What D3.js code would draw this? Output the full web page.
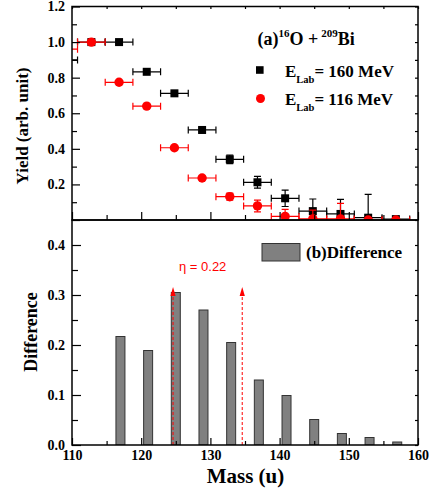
<!DOCTYPE html>
<html>
<head>
<meta charset="utf-8">
<script src="https://cdn.jsdelivr.net/npm/d3@7"></script>
<style>
  body { margin: 0; background: #fff; }
  text { font-family: "Liberation Serif", "Times New Roman", serif; }
</style>
</head>
<body>
<svg id="chart" width="429" height="492"></svg>
<script>
// panel (a): fragment yields
const mass = [108.8, 112.8, 116.8, 120.8, 124.8, 128.8, 132.8, 136.8, 140.8, 144.8, 148.8, 152.8, 156.8];
const massErr = 2;
const yield160 = [0.90, 1.00, 1.00, 0.833, 0.712, 0.506, 0.341, 0.212, 0.122, 0.050, 0.034, 0.013, 0.005];
const err160 = [0, 0, 0.008, 0.008, 0.008, 0.01, 0.024, 0.033, 0.046, 0.068, 0.082, 0.131, 0];
const yield116 = [0.96, 1.00, 0.774, 0.640, 0.406, 0.236, 0.131, 0.079, 0.020, 0.006, 0.006, 0.0, 0.0];
const err116 = [0, 0, 0.008, 0.008, 0.01, 0.012, 0.02, 0.033, 0.04, 0.05, 0.088, 0, 0];

// panel (b): difference
const barMass = [117, 121, 125, 129, 133, 137, 141, 145, 149, 153, 157];
const diff = [0.217, 0.189, 0.305, 0.270, 0.205, 0.130, 0.099, 0.051, 0.023, 0.015, 0.006];
const arrowMass = [124.6, 134.6];
const arrowTop = 0.316;

const xMajor = [110, 120, 130, 140, 150, 160];
const xMinor = [115, 125, 135, 145, 155];
const yTopMajor = [0, 0.2, 0.4, 0.6, 0.8, 1.0, 1.2];
const yTopMinor = [0.1, 0.3, 0.5, 0.7, 0.9, 1.1];
const yBotMajor = [0, 0.1, 0.2, 0.3, 0.4];
const yBotMinor = [0.05, 0.15, 0.25, 0.35];

const svg = d3.select('#chart');
const left = 72, right = 418, topY = 6.5, midY = 220, botY = 445;

const x = d3.scaleLinear().domain([110, 160]).range([left, right]);
const yTop = d3.scaleLinear().domain([0, 1.2]).range([midY, topY]);
const yBot = d3.scaleLinear().domain([0, 0.45]).range([botY, midY]);

const fmt = d3.format('.1f');

function addAxis(axis, tx, ty) {
  const g = svg.append('g')
    .attr('transform', `translate(${tx},${ty})`)
    .call(axis);
  g.select('.domain').remove();
  g.selectAll('.tick line').attr('stroke', '#000').attr('stroke-width', 1.2);
  g.selectAll('.tick text')
    .attr('font-family', '"Liberation Serif", "Times New Roman", serif')
    .attr('font-size', 14)
    .attr('font-weight', 'bold')
    .attr('fill', '#000');
  return g;
}

// clip regions of both panels
svg.append('clipPath').attr('id', 'clipTop')
  .append('rect').attr('x', left).attr('y', topY).attr('width', right - left).attr('height', midY - topY);
svg.append('clipPath').attr('id', 'clipBot')
  .append('rect').attr('x', left).attr('y', midY).attr('width', right - left).attr('height', botY - midY);

// ---- panel (a) points
const pa = svg.append('g').attr('clip-path', 'url(#clipTop)');

function drawSeries(vals, errs, color, shape) {
  const g = pa.append('g');
  mass.forEach((m, i) => {
    const cy = yTop(vals[i]);
    const x0 = x(m - massErr), x1 = x(m + massErr);
    g.append('line').attr('x1', x0).attr('x2', x1).attr('y1', cy).attr('y2', cy)
      .attr('stroke', color).attr('stroke-width', 1.2);
    [x0, x1].forEach(xx => g.append('line').attr('x1', xx).attr('x2', xx)
      .attr('y1', cy - 3.5).attr('y2', cy + 3.5).attr('stroke', color).attr('stroke-width', 1.2));
    if (errs[i] > 0) {
      const ya = yTop(vals[i] + errs[i]), yb = yTop(vals[i] - errs[i]);
      g.append('line').attr('x1', x(m)).attr('x2', x(m)).attr('y1', ya).attr('y2', yb)
        .attr('stroke', color).attr('stroke-width', 1.2);
      [ya, yb].forEach(yy => g.append('line').attr('x1', x(m) - 3.5).attr('x2', x(m) + 3.5)
        .attr('y1', yy).attr('y2', yy).attr('stroke', color).attr('stroke-width', 1.2));
    }
  });
  mass.forEach((m, i) => {
    const cx = x(m), cy = yTop(vals[i]);
    if (shape === 'square') {
      g.append('rect').attr('x', cx - 4).attr('y', cy - 4).attr('width', 8).attr('height', 8).attr('fill', color);
    } else {
      g.append('circle').attr('cx', cx).attr('cy', cy).attr('r', 4.7).attr('fill', color);
    }
  });
}
drawSeries(yield160, err160, '#000', 'square');
drawSeries(yield116, err116, '#ff0000', 'circle');

// ---- panel (b) bars
const pb = svg.append('g').attr('clip-path', 'url(#clipBot)');
pb.selectAll('rect.bar').data(barMass).join('rect')
  .attr('class', 'bar')
  .attr('x', d => x(d - 0.65))
  .attr('width', d => x(d + 0.65) - x(d - 0.65))
  .attr('y', (d, i) => yBot(diff[i]))
  .attr('height', (d, i) => yBot(0) - yBot(diff[i]))
  .attr('fill', '#808080')
  .attr('stroke', '#333')
  .attr('stroke-width', 1);

arrowMass.forEach(m => {
  const ax = x(m), tip = yBot(arrowTop);
  pb.append('line').attr('x1', ax).attr('x2', ax).attr('y1', yBot(0)).attr('y2', tip + 8)
    .attr('stroke', '#ff0000').attr('stroke-width', 1).attr('stroke-dasharray', '3,2');
  pb.append('path').attr('d', `M${ax},${tip}L${ax - 2.6},${tip + 9}L${ax + 2.6},${tip + 9}Z`)
    .attr('fill', '#ff0000');
});

svg.append('text').attr('x', 179).attr('y', 270.5)
  .style('font-family', '"Liberation Sans", Arial, sans-serif')
  .attr('font-size', 13).attr('fill', '#ff0000')
  .text('η = 0.22');

// ---- axes panel (a)
addAxis(d3.axisLeft(yTop).tickValues(yTopMajor).tickSize(-8).tickPadding(7)
  .tickFormat(d => d === 0 ? '' : fmt(d)), left, 0);
addAxis(d3.axisLeft(yTop).tickValues(yTopMinor).tickSize(-5).tickFormat(''), left, 0);
addAxis(d3.axisRight(yTop).tickValues(yTopMajor.concat(yTopMinor)).tickSize(-3).tickFormat(''), right, 0);
addAxis(d3.axisBottom(x).tickValues(xMajor).tickSize(-8).tickFormat(''), 0, midY);
addAxis(d3.axisBottom(x).tickValues(xMinor).tickSize(-5).tickFormat(''), 0, midY);
addAxis(d3.axisTop(x).tickValues(xMajor.concat(xMinor)).tickSize(-2.5).tickFormat(''), 0, topY);

// ---- axes panel (b)
addAxis(d3.axisLeft(yBot).tickValues(yBotMajor).tickSize(-9).tickPadding(7).tickFormat(fmt), left, 0);
addAxis(d3.axisLeft(yBot).tickValues(yBotMinor).tickSize(-6).tickFormat(''), left, 0);
addAxis(d3.axisRight(yBot).tickValues(yBotMajor.concat(yBotMinor)).tickSize(-3).tickFormat(''), right, 0);
addAxis(d3.axisBottom(x).tickValues(xMajor).tickSize(-7).tickPadding(5).tickFormat(d3.format('d')), 0, botY);
addAxis(d3.axisBottom(x).tickValues(xMinor).tickSize(-4).tickFormat(''), 0, botY);

// frames
[[topY, midY], [midY, botY]].forEach(([a, b]) => {
  svg.append('rect').attr('x', left).attr('y', a).attr('width', right - left).attr('height', b - a)
    .attr('fill', 'none').attr('stroke', '#000').attr('stroke-width', 1.5);
});

// ---- legends
const title = svg.append('text').attr('x', 257.5).attr('y', 45)
  .attr('font-size', 18).attr('font-weight', 'bold');
title.append('tspan').text('(a)');
title.append('tspan').attr('font-size', 11).attr('dy', -8).text('16');
title.append('tspan').attr('dy', 8).text('O +');
title.append('tspan').attr('font-size', 11).attr('dy', -8).attr('dx', 3).text('209');
title.append('tspan').attr('dy', 8).text('Bi');

const legItems = [
  { label: '= 160 MeV', color: '#000', shape: 'square', y: 70, base: 76.7 },
  { label: '= 116 MeV', color: '#ff0000', shape: 'circle', y: 98.5, base: 105 }
];
legItems.forEach(d => {
  if (d.shape === 'square') {
    svg.append('rect').attr('x', 256).attr('y', d.y - 3.8).attr('width', 7.6).attr('height', 7.6).attr('fill', d.color);
  } else {
    svg.append('circle').attr('cx', 260.5).attr('cy', d.y).attr('r', 4.5).attr('fill', d.color);
  }
  const t = svg.append('text').attr('x', 285).attr('y', d.base).attr('font-size', 17).attr('font-weight', 'bold');
  t.append('tspan').text('E');
  t.append('tspan').attr('font-size', 10.5).attr('dy', 6).text('Lab');
  t.append('tspan').attr('dy', -6).text(d.label);
});

svg.append('rect').attr('x', 262).attr('y', 243.5).attr('width', 38).attr('height', 17.5)
  .attr('fill', '#808080').attr('stroke', '#333').attr('stroke-width', 1);
svg.append('text').attr('x', 306).attr('y', 258).attr('font-size', 17).attr('font-weight', 'bold')
  .text('(b)Difference');

// ---- axis titles
svg.append('text').attr('transform', 'translate(28,126) rotate(-90)')
  .attr('text-anchor', 'middle').attr('font-size', 17).attr('font-weight', 'bold')
  .text('Yield (arb. unit)');
svg.append('text').attr('transform', 'translate(36.5,332) rotate(-90)')
  .attr('text-anchor', 'middle').attr('font-size', 18).attr('font-weight', 'bold')
  .text('Difference');
svg.append('text').attr('x', 245.5).attr('y', 482.5)
  .attr('text-anchor', 'middle').attr('font-size', 21).attr('font-weight', 'bold')
  .text('Mass (u)');
</script>
</body>
</html>
